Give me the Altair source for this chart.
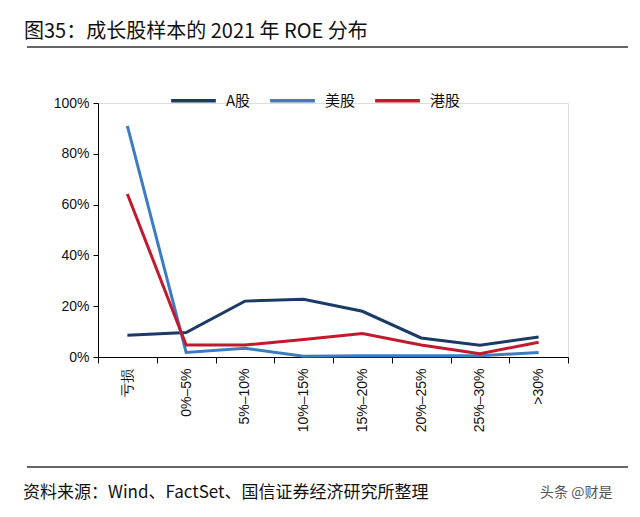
import altair as alt
import pandas as pd

categories = ["亏损", "0%–5%", "5%–10%", "10%–15%", "15%–20%", "20%–25%", "25%–30%", ">30%"]
series_names = ["A股", "美股", "港股"]
a_share = [8.6, 9.6, 22.0, 22.7, 18.0, 7.5, 4.6, 7.9]
us_share = [91.0, 1.8, 3.4, 0.3, 0.5, 0.5, 0.5, 1.8]
hk_share = [64.2, 4.7, 4.7, 6.9, 9.2, 4.7, 1.3, 5.8]
colors = ["#1B3A66", "#3D7CC0", "#C1192D"]
y_ticks = [0, 20, 40, 60, 80, 100]

rows = []
for name, vals in zip(series_names, [a_share, us_share, hk_share]):
    for c, v in zip(categories, vals):
        rows.append({"cat": c, "series": name, "val": v / 100.0})
df = pd.DataFrame(rows)

NUMFONT = "Liberation Sans"
CJK = "Noto Sans CJK SC"

lines = alt.Chart(df).mark_line(strokeWidth=3).encode(
    x=alt.X("cat:N", sort=categories, bandPosition=0.5,
            scale=alt.Scale(type="band", paddingInner=0, paddingOuter=0),
            axis=alt.Axis(title=None, labelAngle=-90, tickBand="extent",
                          domainColor="#000", tickColor="#000", tickSize=6,
                          labelFont=NUMFONT, labelFontSize=14, labelColor="#111",
                          labelPadding=5, labelBaseline="middle", labelAlign="right")),
    y=alt.Y("val:Q", scale=alt.Scale(domain=[0, 1], nice=False),
            axis=alt.Axis(title=None, format=".0%", values=[t / 100 for t in y_ticks],
                          grid=False, domainColor="#000", tickColor="#000", tickSize=5,
                          labelFont=NUMFONT, labelFontSize=14, labelColor="#111",
                          labelPadding=4)),
    color=alt.Color("series:N", sort=series_names,
                    scale=alt.Scale(domain=series_names, range=colors),
                    legend=alt.Legend(title=None, orient="none", legendX=71, legendY=-27,
                                      direction="horizontal", symbolType="stroke",
                                      symbolSize=2000, symbolStrokeWidth=3.5,
                                      labelFont=CJK, labelFontSize=15, labelColor="#111",
                                      columnPadding=12, labelOffset=8)),
)

title_txt = alt.Chart(pd.DataFrame({"t": ["图35：成长股样本的 2021 年 ROE 分布"]})).mark_text(
    align="left", baseline="alphabetic", font=CJK, fontSize=20, color="#111"
).encode(x=alt.value(-74), y=alt.value(-65), text="t:N")

rule_top = alt.Chart(pd.DataFrame({"a": [0]})).mark_rule(color="#333", strokeWidth=1.5).encode(
    x=alt.value(-71), x2=alt.value(560), y=alt.value(-56))
rule_bot = alt.Chart(pd.DataFrame({"a": [0]})).mark_rule(color="#333", strokeWidth=1.5).encode(
    x=alt.value(-71), x2=alt.value(560), y=alt.value(364))

foot_txt = alt.Chart(pd.DataFrame({"t": ["资料来源：Wind、FactSet、国信证券经济研究所整理"]})).mark_text(
    align="left", baseline="middle", font=CJK, fontSize=17, color="#111"
).encode(x=alt.value(-75), y=alt.value(390), text="t:N")

wm_txt = alt.Chart(pd.DataFrame({"t": ["头条 @财是"]})).mark_text(
    align="left", baseline="middle", font=CJK, fontSize=14, color="#555"
).encode(x=alt.value(442), y=alt.value(390), text="t:N")

chart = alt.layer(lines, title_txt, rule_top, rule_bot, foot_txt, wm_txt).properties(
    width=470, height=254,
    autosize=alt.AutoSizeParams(type="none"),
    padding={"left": 90, "top": 95, "right": 60, "bottom": 148},
).configure_view(stroke=None).configure(background="white")

chart.save("out.html", embed_options={"renderer": "svg", "actions": False})
